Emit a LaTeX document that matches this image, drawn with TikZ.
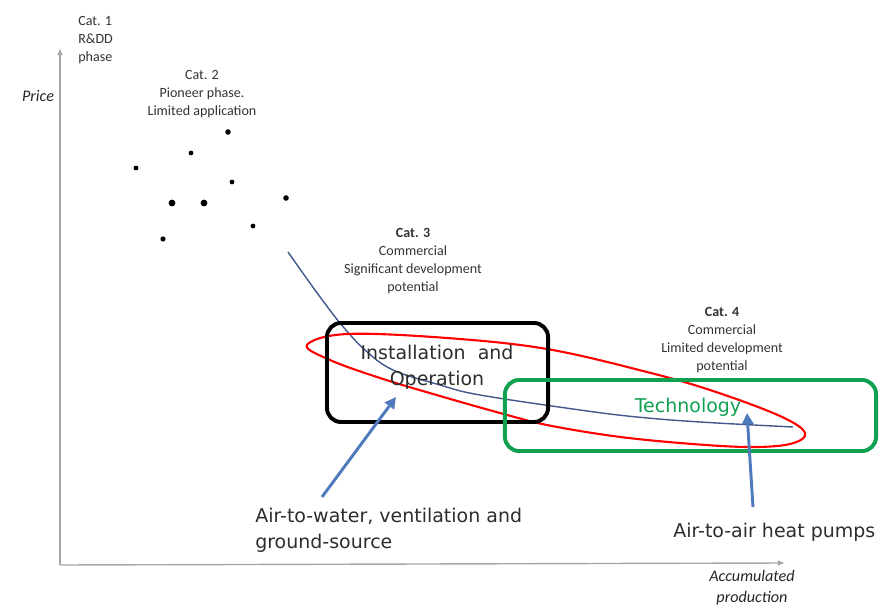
\documentclass[tikz,border=0pt]{standalone}
\usepackage{fontspec}
\setmainfont{Carlito}
\newfontfamily\labelfont{DejaVu Sans}
\usepackage{xcolor}
\usepackage{tikz}
\usetikzlibrary{positioning,calc,arrows.meta}

\definecolor{curveblue}{RGB}{66,88,140}
\definecolor{arrowblue}{RGB}{79,122,190}
\definecolor{boxgreen}{RGB}{16,160,80}
\definecolor{labelgray}{RGB}{45,45,45}

\tikzset{
    axis/.style={draw=gray!70, line width=1pt, -{Latex[length=5pt,width=4pt]}},
    catnote/.style={align=center, inner sep=0pt, text=black!80, font=\fontsize{10}{12.8}\selectfont},
    axisnote/.style={align=center, inner sep=0pt, text=black!85, font=\fontsize{11.5}{15}\selectfont\itshape},
    biglabel/.style={align=left, inner sep=0pt, text=labelgray, font=\labelfont\fontsize{13.5}{18.5}\selectfont},
    catbox/.style={draw, rounded corners=10pt, line width=2.8pt, inner sep=0pt},
    pointer/.style={draw=arrowblue, line width=2.1pt, -{Triangle[length=8pt,width=8pt]}}
}

\begin{document}
\begin{tikzpicture}[x=0.025cm, y=-0.025cm]
    \useasboundingbox (0,0) rectangle (882,610);

    % Axes
    \coordinate (origin) at (60,565);
    \coordinate (ytip) at (60,48);
    \coordinate (xtip) at (785,563);
    \draw[axis] (origin) -- (ytip);
    \draw[axis] (origin) -- (xtip);
    \node[axisnote] (price) at (38,96) {Price};
    \node[axisnote] (prodlabel) at (752,588) {Accumulated\\production};

    % Categories
    \node[catnote, align=left, anchor=west] (cat1) at (78,40) {Cat. 1\\R\&DD\\phase};
    \node[catnote] (cat2) at (202,94) {Cat. 2\\Pioneer phase.\\Limited application};
    \node[catnote] (cat3) at (413,261) {\textbf{Cat. 3}\\Commercial\\Significant development\\potential};
    \node[catnote] (cat4) at (722,340) {\textbf{Cat. 4}\\Commercial\\Limited development\\potential};

    % Pioneer dots
    \foreach \x/\y/\r in {136/168/2.4, 191/153/2.4, 228/132/2.8, 232/182/2.4, 172/203/3.4,
                          204/203/3.4, 286/198/2.8, 253/226/2.4, 163/239/2.6} {
        \fill (\x,\y) circle (\r);
    }

    % Learning curve
    \draw[curveblue, line width=1pt] plot[smooth, tension=0.6] coordinates {
        (288,252) (315,290) (340,323) (365,350) (393,370) (440,385)
        (480,395) (580,410) (637,417) (700,422) (793,427)};

    % Red loop
    \draw[red, line width=1.5pt] plot[smooth cycle, tension=0.6] coordinates {
        (307,345) (347,334) (447,338) (547,349) (647,372) (713,391) (780,416)
        (805,433) (790,444) (747,447) (680,443) (613,436) (547,425) (500,413)
        (440,396) (380,378) (330,360)};

    % Boxes
    \node[catbox, minimum width=5.525cm, minimum height=2.475cm] (instbox) at (437.5,372.5) {};
    \node[biglabel, align=center] (instlabel) at (437,367) {Installation\ \ and\\Operation};
    \node[catbox, draw=boxgreen, minimum width=9.275cm, minimum height=1.775cm] (techbox) at (690.5,415.5) {};
    \node[biglabel, text=boxgreen] (techlabel) at (688,407) {Technology};

    % Pointers
    \node[biglabel, anchor=west] (awlabel) at (255,530) {Air-to-water, ventilation and\\ground-source};
    \node[biglabel, anchor=west] (aalabel) at (673,532) {Air-to-air heat pumps};
    \coordinate (awtail) at (322,497);
    \coordinate (awtip) at (396,397);
    \coordinate (aatail) at (753,507);
    \coordinate (aatip) at (747,413);
    \draw[pointer] (awtail) -- (awtip);
    \draw[pointer] (aatail) -- (aatip);
\end{tikzpicture}
\end{document}
